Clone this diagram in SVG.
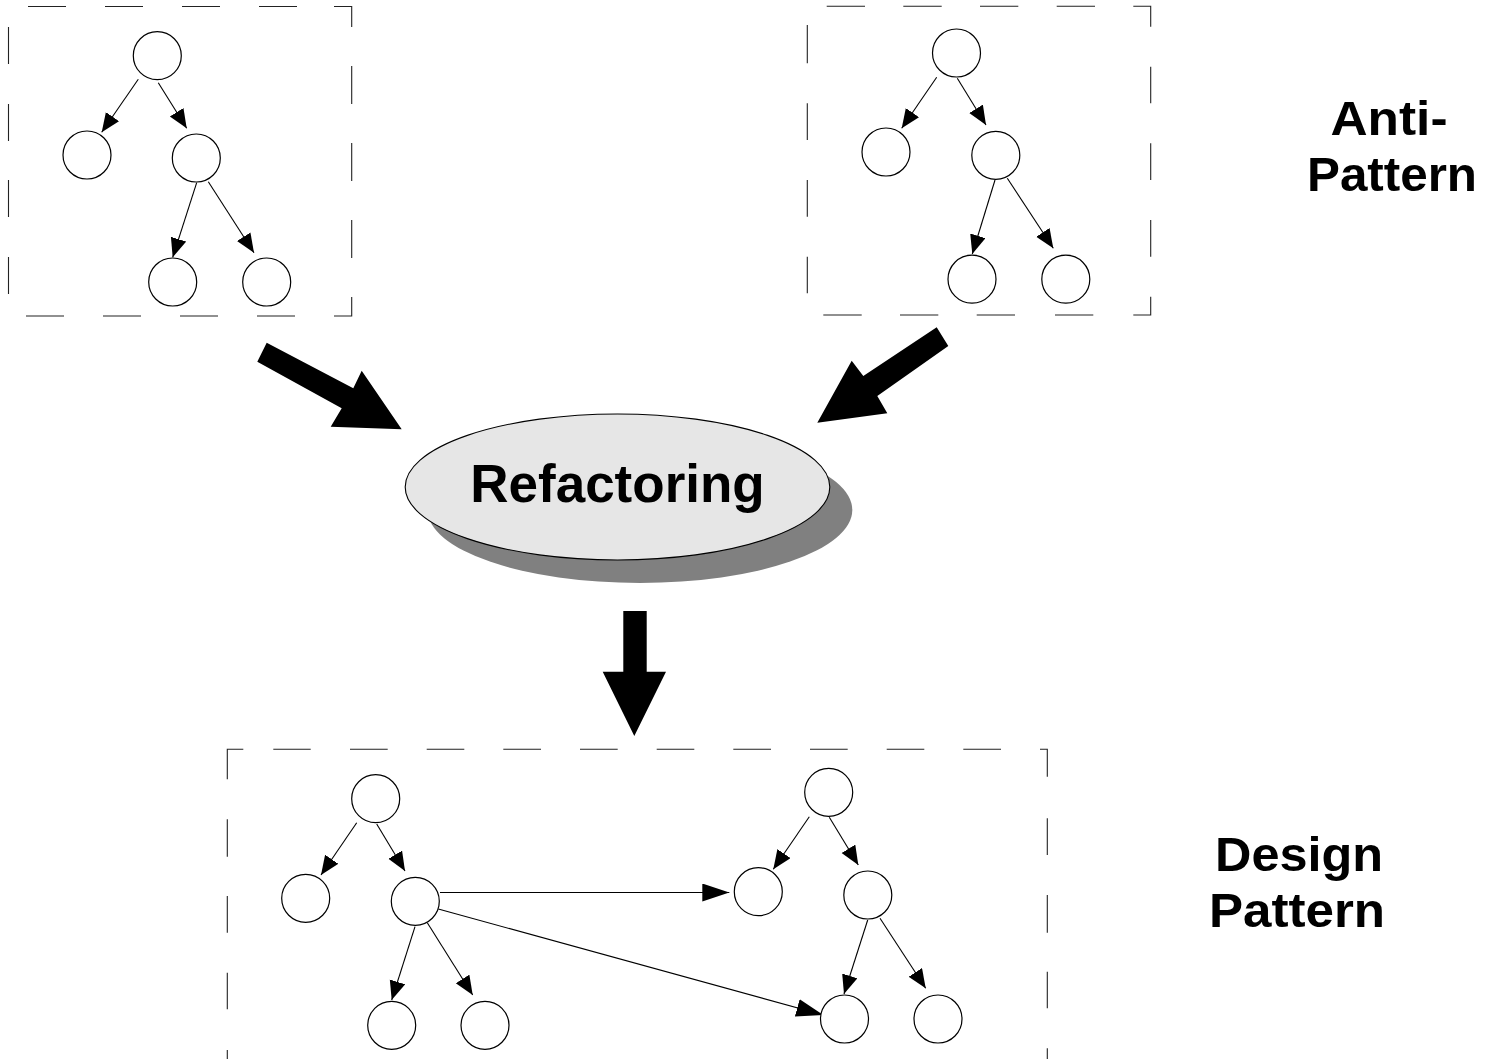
<svg xmlns="http://www.w3.org/2000/svg" width="1491" height="1059" viewBox="0 0 1491 1059">
<style>
.dash{fill:none;stroke:#222;stroke-width:1.1}
.n{fill:#fff;stroke:#000;stroke-width:1.2}
.e{fill:none;stroke:#000;stroke-width:1.1;marker-end:url(#ah)}
.x{fill:none;stroke:#000;stroke-width:1.1;marker-end:url(#ahb)}
.big{fill:#000;stroke:none}
.lbl{font-family:"Liberation Sans",Arial,sans-serif;font-weight:bold;fill:#000;text-anchor:middle}
</style>
<defs>
<marker id="ah" markerUnits="userSpaceOnUse" markerWidth="22" markerHeight="18" refX="19" refY="8" orient="auto" viewBox="0 0 22 18">
<path d="M0,0 L19,8 L0,16 Z" fill="#000"/>
</marker>
<marker id="ahb" markerUnits="userSpaceOnUse" markerWidth="30" markerHeight="20" refX="27" refY="9" orient="auto" viewBox="0 0 30 20">
<path d="M0,0 L27,9 L0,18 Z" fill="#000"/>
</marker>
</defs>
<rect width="1491" height="1059" fill="#fff"/>

<g id="box-anti-pattern-left">
<path class="dash" d="M28,6.5H66M105,6.5H143M182,6.5H220M259,6.5H297M334,6.5H351.7V27M351.7,66V104M351.7,143V181M351.7,220V258M351.7,297V316H334M295,316H257M218,316H180M141,316H103M64,316H26M8.5,294V257M8.5,217V180M8.5,141V104M8.5,64V27"/>
</g>
<g id="box-anti-pattern-right">
<path class="dash" d="M826.7,6.3H865M903.3,6.3H941.7M980,6.3H1018.3M1056.7,6.3H1095M1133.3,6.3H1150.7V26.7M1150.7,66.7V103.3M1150.7,143.3V180M1150.7,220V256.7M1150.7,296.7V315H1133.3M1093.3,315H1055M1015,315H976.7M938.3,315H900M861.7,315H823.3M807.3,293.3V256.7M807.3,216.7V180M807.3,140V103.3M807.3,63.3V25"/>
</g>
<g id="box-design-pattern">
<path class="dash" d="M227.3,779.3V749.3H243.3M273.3,749.3H310.7M350,749.3H387.7M426.7,749.3H464.3M503.3,749.3H541M580,749.3H617.7M656.7,749.3H694.3M733.3,749.3H771M810,749.3H847.7M886.7,749.3H924.3M963.3,749.3H1001M1040,749.3H1047.3V776.7M1047.3,818.3V855M1047.3,895V932.7M1047.3,971.7V1008.3M1047.3,1048.3V1086M227.3,819.3V856.7M227.3,896V932.7M227.3,972.7V1009.3M227.3,1050V1087"/>
</g>

<g id="connectors">
<path class="e" d="M138.3,79.3L101.7,132.3"/>
<path class="e" d="M158.3,82.7L186.7,128.3"/>
<path class="e" d="M196.7,182.7L172.7,257.3"/>
<path class="e" d="M208.3,181.7L254,252.7"/>
<path class="e" d="M936.7,77.3L901.7,128.3"/>
<path class="e" d="M957.3,78.3L986,125"/>
<path class="e" d="M995,180L972.3,254"/>
<path class="e" d="M1007.3,178.3L1053.3,248.3"/>
<path class="e" d="M356.7,822.7L321,875"/>
<path class="e" d="M376.7,824L405,871"/>
<path class="e" d="M415,926.7L391.7,1000"/>
<path class="e" d="M427.3,922.7L472.7,995"/>
<path class="e" d="M809.3,816.7L773.3,869.3"/>
<path class="e" d="M829.3,817.3L858.3,865"/>
<path class="e" d="M867.7,920L844,994"/>
<path class="e" d="M880,918.3L925.7,988.3"/>
<path class="x" d="M440,892.5L729.3,892.5"/>
<path class="x" d="M438.3,909L823.3,1015"/>
<polygon class="big" points="266.7,342.7 353.3,388.3 361.7,370.7 401.7,429.3 330.7,426.7 341.7,408.3 257.3,361.7"/>
<polygon class="big" points="936.7,327.3 948.3,346 877.3,396 887.3,413.3 817.3,422.7 851.7,360.7 863.3,376"/>
<polygon class="big" points="623.3,611 646.7,611 646.7,671.7 666,671.7 634.3,736 602.7,671.7 623.3,671.7"/>
</g>

<g id="a-root"><circle class="n" cx="157.3" cy="55.7" r="24"/></g>
<g id="a-left"><circle class="n" cx="87" cy="155" r="24"/></g>
<g id="a-right"><circle class="n" cx="196.3" cy="158" r="24"/></g>
<g id="a-right-left"><circle class="n" cx="172.7" cy="282" r="24"/></g>
<g id="a-right-right"><circle class="n" cx="266.7" cy="282" r="24"/></g>

<g id="b-root"><circle class="n" cx="956.5" cy="53" r="24"/></g>
<g id="b-left"><circle class="n" cx="886" cy="152" r="24"/></g>
<g id="b-right"><circle class="n" cx="995.8" cy="155.3" r="24"/></g>
<g id="b-right-left"><circle class="n" cx="972" cy="279.2" r="24"/></g>
<g id="b-right-right"><circle class="n" cx="1065.8" cy="279.2" r="24"/></g>

<g id="c-root"><circle class="n" cx="375.7" cy="798.7" r="24"/></g>
<g id="c-left"><circle class="n" cx="305.7" cy="898.3" r="24"/></g>
<g id="c-right"><circle class="n" cx="415.3" cy="901.3" r="24"/></g>
<g id="c-right-left"><circle class="n" cx="391.7" cy="1025.3" r="24"/></g>
<g id="c-right-right"><circle class="n" cx="485" cy="1025.3" r="24"/></g>

<g id="d-root"><circle class="n" cx="828.7" cy="792.3" r="24"/></g>
<g id="d-left"><circle class="n" cx="758.3" cy="891.7" r="24"/></g>
<g id="d-right"><circle class="n" cx="867.8" cy="895" r="24"/></g>
<g id="d-right-left"><circle class="n" cx="844.5" cy="1019" r="24"/></g>
<g id="d-right-right"><circle class="n" cx="938" cy="1019" r="24"/></g>

<g id="refactoring">
<ellipse cx="640" cy="510" rx="212.3" ry="73" fill="#808080"/>
<ellipse cx="617.5" cy="487" rx="212.3" ry="73" fill="#e6e6e6" stroke="#000" stroke-width="1.1"/>
<text class="lbl" x="617.5" y="501.5" font-size="53">Refactoring</text>
</g>

<g id="label-anti-pattern">
<text class="lbl" x="1389" y="135" font-size="48" textLength="117" lengthAdjust="spacingAndGlyphs">Anti-</text>
<text class="lbl" x="1392" y="191" font-size="48" textLength="170" lengthAdjust="spacingAndGlyphs">Pattern</text>
</g>
<g id="label-design-pattern">
<text class="lbl" x="1299" y="871" font-size="48" textLength="168" lengthAdjust="spacingAndGlyphs">Design</text>
<text class="lbl" x="1297" y="927" font-size="48" textLength="176" lengthAdjust="spacingAndGlyphs">Pattern</text>
</g>
</svg>
